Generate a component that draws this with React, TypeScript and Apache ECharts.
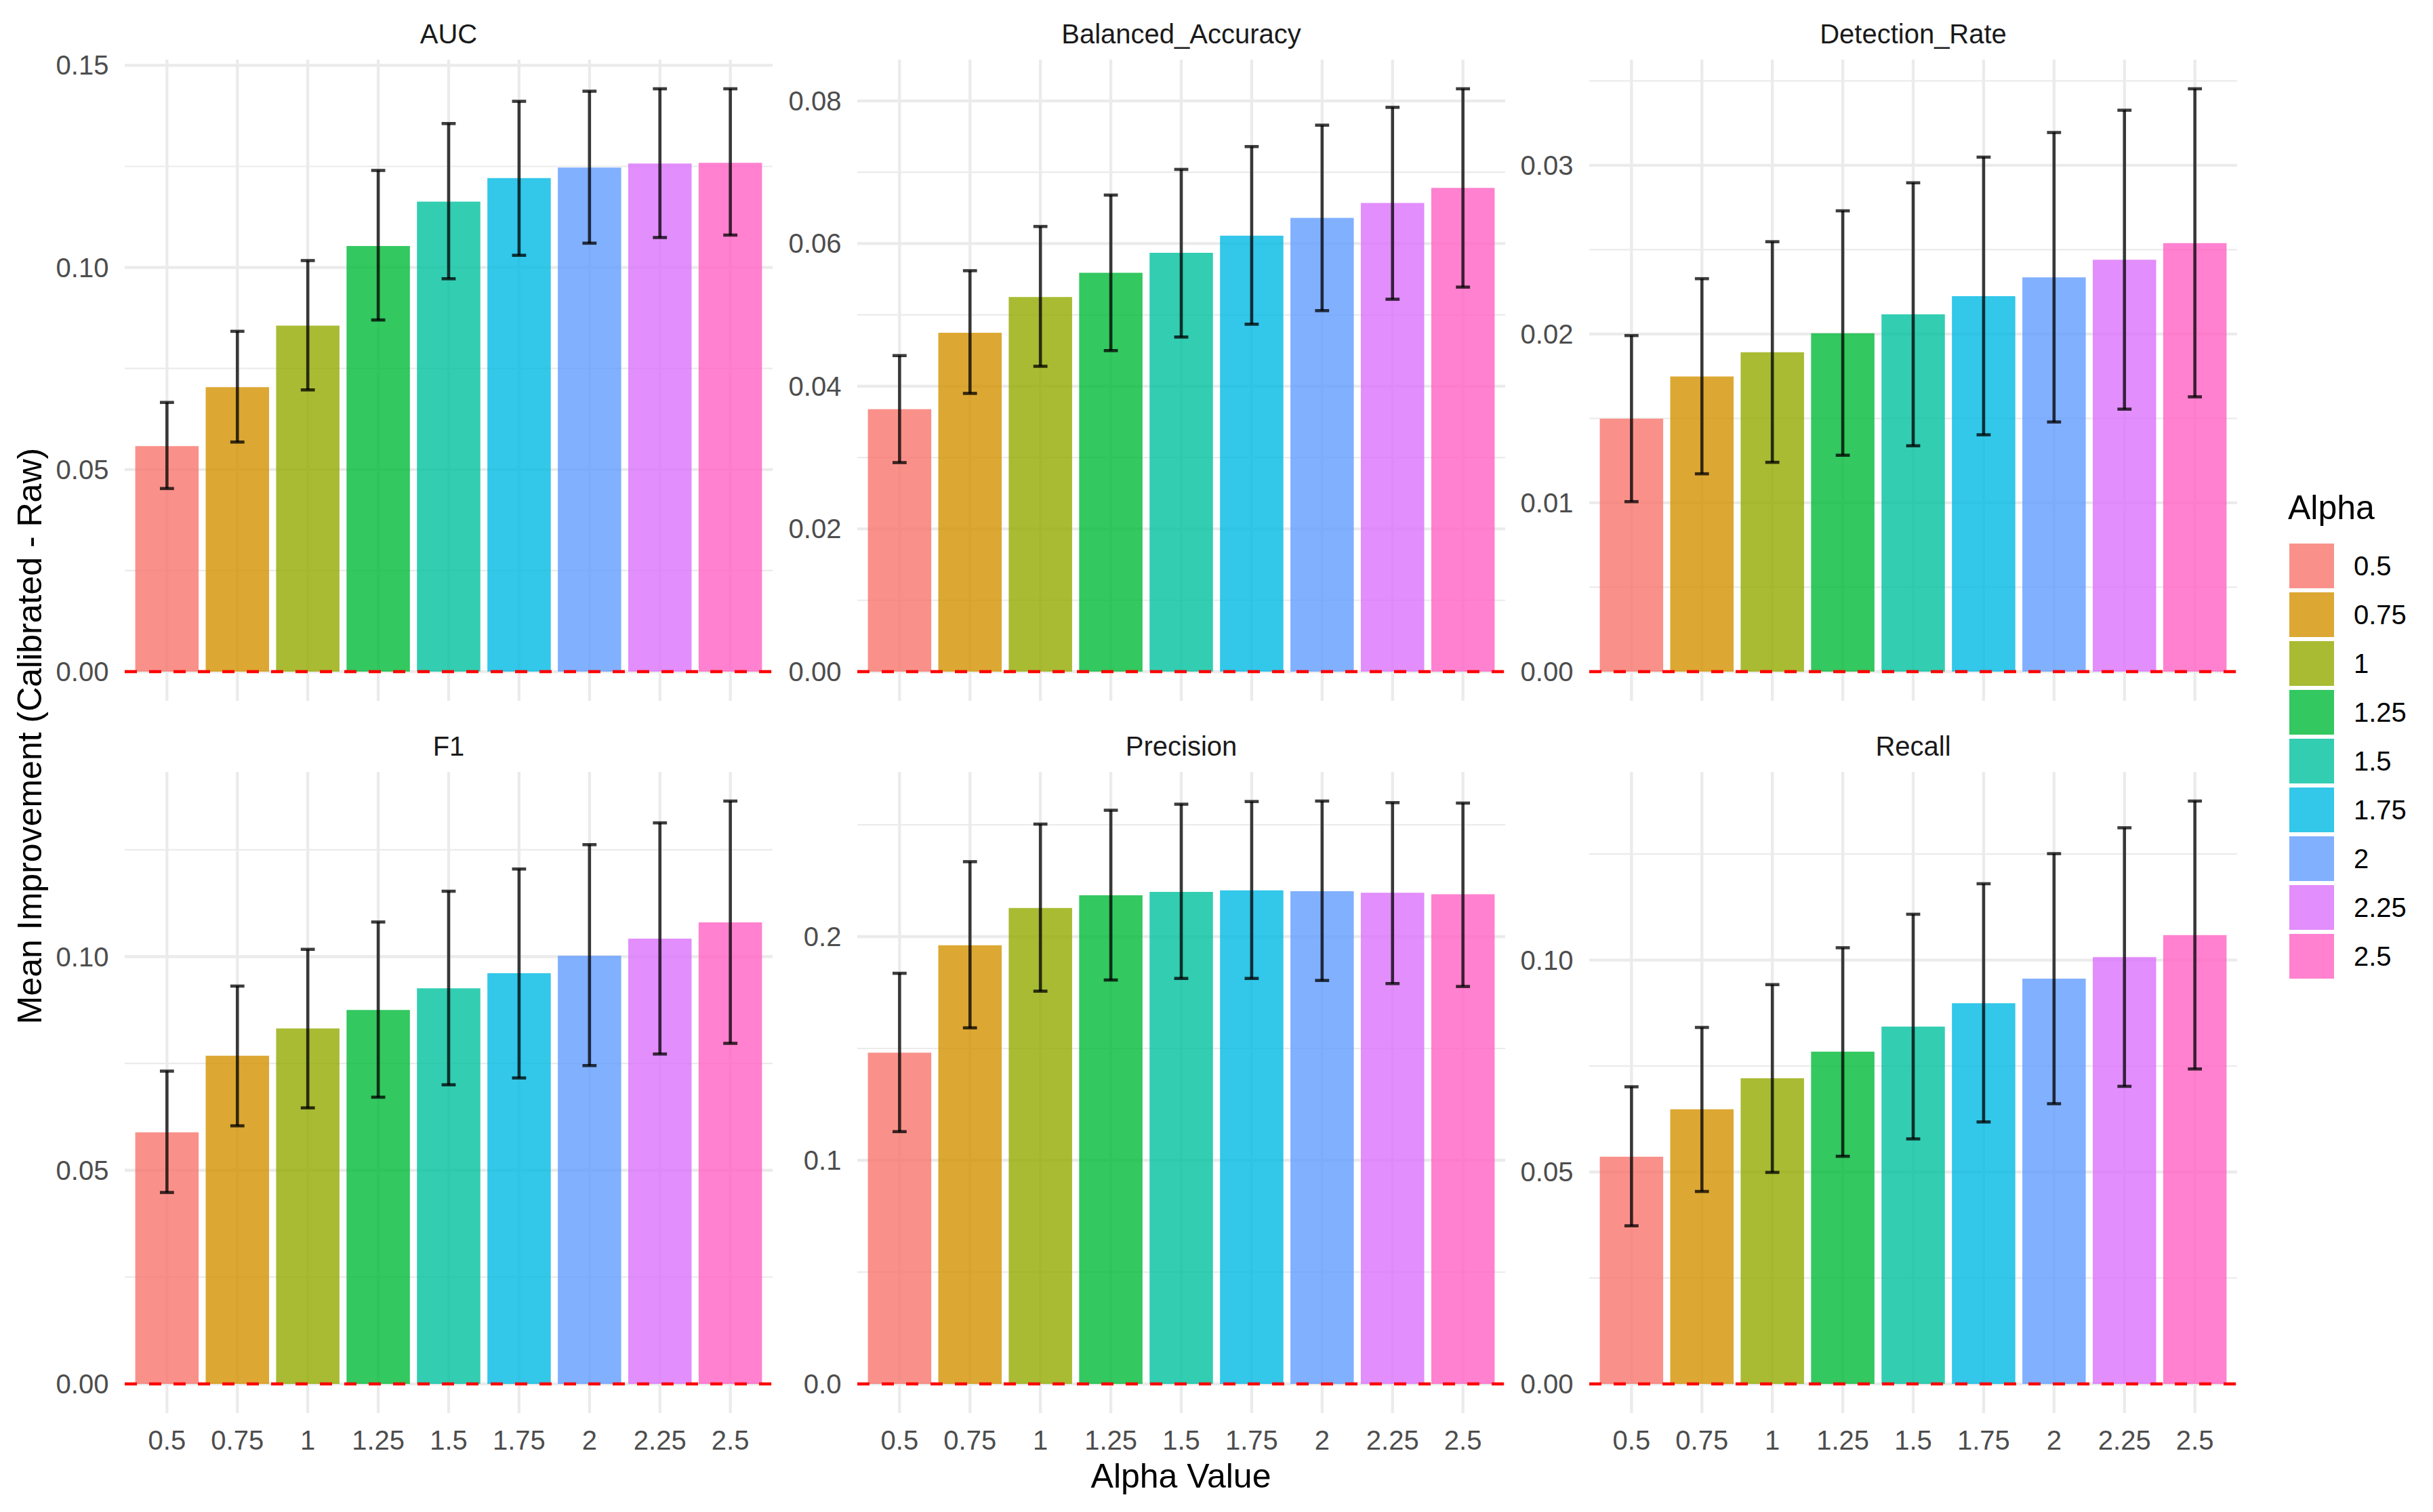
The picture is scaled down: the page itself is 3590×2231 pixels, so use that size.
import React, { useEffect, useRef } from "react";
import * as echarts from "echarts";

// ---------------- DATA ----------------
const alphas = ["0.5", "0.75", "1", "1.25", "1.5", "1.75", "2", "2.25", "2.5"];
const fills = ["#F8766D", "#D39200", "#93AA00", "#00BA38", "#00C19F", "#00B9E3", "#619CFF", "#DB72FB", "#FF61C3"];

const metricNames = ["AUC", "Balanced_Accuracy", "Detection_Rate", "F1", "Precision", "Recall"];

const aucMean = [0.0558, 0.0704, 0.0856, 0.1053, 0.1163, 0.1221, 0.1247, 0.1257, 0.1259];
const aucLo = [0.0453, 0.0568, 0.0697, 0.087, 0.0972, 0.103, 0.106, 0.1074, 0.108];
const aucHi = [0.0666, 0.0842, 0.1017, 0.124, 0.1356, 0.1411, 0.1436, 0.1442, 0.1442];

const baMean = [0.0368, 0.0475, 0.0525, 0.0559, 0.0587, 0.0611, 0.0636, 0.0657, 0.0678];
const baLo = [0.0293, 0.039, 0.0428, 0.045, 0.0469, 0.0487, 0.0506, 0.0522, 0.0539];
const baHi = [0.0443, 0.0562, 0.0624, 0.0668, 0.0704, 0.0736, 0.0766, 0.0791, 0.0817];

const drMean = [0.01499, 0.01749, 0.01892, 0.02005, 0.02117, 0.02224, 0.02336, 0.0244, 0.02539];
const drLo = [0.01007, 0.01172, 0.0124, 0.01282, 0.01338, 0.01403, 0.01479, 0.01555, 0.01628];
const drHi = [0.01991, 0.02328, 0.02547, 0.0273, 0.02896, 0.03048, 0.03194, 0.03326, 0.03453];

const f1Mean = [0.0589, 0.0768, 0.0832, 0.0875, 0.0926, 0.0961, 0.1002, 0.1042, 0.108];
const f1Lo = [0.0448, 0.0604, 0.0646, 0.0671, 0.07, 0.0716, 0.0745, 0.0772, 0.0797];
const f1Hi = [0.0732, 0.0931, 0.1017, 0.1081, 0.1153, 0.1205, 0.1262, 0.1313, 0.1364];

const precMean = [0.1481, 0.1961, 0.2128, 0.2185, 0.22, 0.2207, 0.2203, 0.2196, 0.2189];
const precLo = [0.1128, 0.1592, 0.1756, 0.1806, 0.1813, 0.1813, 0.1804, 0.179, 0.1777];
const precHi = [0.1836, 0.2335, 0.2503, 0.2565, 0.2592, 0.2604, 0.2606, 0.2599, 0.2597];

const recMean = [0.0536, 0.0648, 0.0721, 0.0784, 0.0843, 0.0898, 0.0956, 0.1007, 0.1059];
const recLo = [0.0373, 0.0454, 0.0499, 0.0537, 0.0578, 0.0618, 0.0661, 0.0702, 0.0743];
const recHi = [0.0701, 0.0841, 0.0942, 0.1029, 0.1108, 0.118, 0.1251, 0.1312, 0.1375];

const aucTicks = [0, 0.05, 0.1, 0.15];
const baTicks = [0, 0.02, 0.04, 0.06, 0.08];
const drTicks = [0, 0.01, 0.02, 0.03];
const f1Ticks = [0, 0.05, 0.1];
const precTicks = [0, 0.1, 0.2];
const recTicks = [0, 0.05, 0.1];
const tickDecimals = [2, 2, 2, 2, 1, 2];

const xTitle = "Alpha Value";
const yTitle = "Mean Improvement (Calibrated - Raw)";
const legendTitle = "Alpha";

// ---------------- LAYOUT ----------------
const W = 3590;
const H = 2231;
const colLeft = [184, 1265, 2345];
const rowTop = [88, 1139];
const panelW = 956;
const panelH = 946;
const FONT = "'Liberation Sans', Arial, Helvetica, sans-serif";

const panels = [
  { name: metricNames[0], mean: aucMean, lo: aucLo, hi: aucHi, ticks: aucTicks },
  { name: metricNames[1], mean: baMean, lo: baLo, hi: baHi, ticks: baTicks },
  { name: metricNames[2], mean: drMean, lo: drLo, hi: drHi, ticks: drTicks },
  { name: metricNames[3], mean: f1Mean, lo: f1Lo, hi: f1Hi, ticks: f1Ticks },
  { name: metricNames[4], mean: precMean, lo: precLo, hi: precHi, ticks: precTicks },
  { name: metricNames[5], mean: recMean, lo: recLo, hi: recHi, ticks: recTicks },
];

function withAlpha(hex: string, a: number) {
  const r = parseInt(hex.slice(1, 3), 16);
  const g = parseInt(hex.slice(3, 5), 16);
  const b = parseInt(hex.slice(5, 7), 16);
  return `rgba(${r},${g},${b},${a})`;
}

function buildOption() {
  const grids: any[] = [];
  const xAxes: any[] = [];
  const yAxes: any[] = [];
  const series: any[] = [];
  const graphics: any[] = [];

  panels.forEach((p, i) => {
    const col = i % 3;
    const row = Math.floor(i / 3);
    const left = colLeft[col];
    const top = rowTop[row];
    const unit = panelW / (alphas.length + 0.2);
    const inset = unit * 0.1;
    const R = Math.max(...p.hi);
    const ymin = -0.05 * R;
    const ymax = 1.05 * R;
    const step = p.ticks[1] - p.ticks[0];
    const minors: number[] = [];
    for (let k = 0; k < p.ticks.length; k++) {
      const m = p.ticks[k] + step / 2;
      if (m <= ymax) minors.push(m);
    }

    grids.push({ left: left + inset, top, width: panelW - 2 * inset, height: panelH, containLabel: false });
    xAxes.push({
      type: "category",
      gridIndex: i,
      data: alphas,
      boundaryGap: true,
      axisLine: { show: false },
      axisTick: { show: false },
      splitLine: { show: false },
      axisLabel: {
        show: row === 1,
        margin: 40,
        verticalAlign: "middle",
        color: "#4D4D4D",
        fontSize: 40,
        fontFamily: FONT,
        interval: 0,
      },
    });
    yAxes.push({
      type: "value",
      gridIndex: i,
      min: ymin,
      max: ymax,
      axisLine: { show: false },
      axisTick: { show: false, customValues: p.ticks },
      splitLine: { show: false },
      axisLabel: {
        customValues: p.ticks,
        formatter: (v: number) => v.toFixed(tickDecimals[i]),
        margin: 34,
        color: "#4D4D4D",
        fontSize: 40,
        fontFamily: FONT,
      },
    });

    const gridData = [
      ...minors.map((v) => [0, v, 0]),
      ...p.ticks.map((v) => [0, v, 1]),
    ];
    // horizontal grid lines
    series.push({
      type: "custom",
      xAxisIndex: i,
      yAxisIndex: i,
      z: 1,
      silent: true,
      clip: false,
      encode: { x: 0, y: 1 },
      data: gridData,
      renderItem: (params: any, api: any) => {
        const cs = params.coordSys;
        const y = api.coord([0, api.value(1)])[1];
        const major = api.value(2) === 1;
        return {
          type: "line",
          shape: { x1: cs.x - inset, y1: y, x2: cs.x + cs.width + inset, y2: y },
          style: { stroke: "#EBEBEB", lineWidth: major ? 4.3 : 2.2 },
        };
      },
    });
    // vertical grid lines
    series.push({
      type: "custom",
      xAxisIndex: i,
      yAxisIndex: i,
      z: 1,
      silent: true,
      clip: false,
      encode: { x: 0, y: 1 },
      data: alphas.map((a, k) => [k, 0]),
      renderItem: (params: any, api: any) => {
        const cs = params.coordSys;
        const x = api.coord([api.value(0), 0])[0];
        return {
          type: "line",
          shape: { x1: x, y1: cs.y, x2: x, y2: cs.y + cs.height },
          style: { stroke: "#EBEBEB", lineWidth: 4.3 },
        };
      },
    });
    // bars
    series.push({
      type: "bar",
      xAxisIndex: i,
      yAxisIndex: i,
      z: 2,
      barWidth: "90%",
      silent: true,
      data: p.mean.map((v, k) => ({ value: v, itemStyle: { color: withAlpha(fills[k], 0.8) } })),
    });
    // zero reference line
    series.push({
      type: "custom",
      xAxisIndex: i,
      yAxisIndex: i,
      z: 3,
      silent: true,
      clip: false,
      encode: { x: 0, y: 1 },
      data: [[0, 0]],
      renderItem: (params: any, api: any) => {
        const cs = params.coordSys;
        const y = api.coord([0, api.value(1)])[1];
        return {
          type: "line",
          shape: { x1: cs.x - inset, y1: y, x2: cs.x + cs.width + inset, y2: y },
          style: { stroke: "#FF0000", lineWidth: 4.6, lineDash: [18, 18] },
        };
      },
    });
    // error bars
    series.push({
      type: "custom",
      xAxisIndex: i,
      yAxisIndex: i,
      z: 4,
      silent: true,
      clip: false,
      encode: { x: 0, y: [1, 2] },
      data: p.mean.map((_, k) => [k, p.lo[k], p.hi[k]]),
      renderItem: (params: any, api: any) => {
        const xi = api.value(0);
        const pLo = api.coord([xi, api.value(1)]);
        const pHi = api.coord([xi, api.value(2)]);
        const half = api.size([1, 0])[0] * 0.1;
        const style = { stroke: "rgba(0,0,0,0.76)", lineWidth: 4.6 };
        return {
          type: "group",
          children: [
            { type: "line", shape: { x1: pLo[0], y1: pLo[1], x2: pHi[0], y2: pHi[1] }, style },
            { type: "line", shape: { x1: pHi[0] - half, y1: pHi[1], x2: pHi[0] + half, y2: pHi[1] }, style },
            { type: "line", shape: { x1: pLo[0] - half, y1: pLo[1], x2: pLo[0] + half, y2: pLo[1] }, style },
          ],
        };
      },
    });

    // strip title
    graphics.push({
      type: "text",
      x: left + panelW / 2,
      y: top - 38.5,
      silent: true,
      style: {
        text: p.name,
        x: 0,
        y: 0,
        textAlign: "center",
        textVerticalAlign: "middle",
        fill: "#1A1A1A",
        font: `40px ${FONT}`,
      },
    });
  });

  // axis titles
  graphics.push({
    type: "text",
    x: (colLeft[0] + colLeft[2] + panelW) / 2,
    y: 2178,
    silent: true,
    style: { text: xTitle, x: 0, y: 0, textAlign: "center", textVerticalAlign: "middle", fill: "#000000", font: `50px ${FONT}` },
  });
  graphics.push({
    type: "text",
    x: 44,
    y: 1086,
    rotation: Math.PI / 2,
    silent: true,
    style: { text: yTitle, x: 0, y: 0, textAlign: "center", textVerticalAlign: "middle", fill: "#000000", font: `50px ${FONT}` },
  });

  // legend
  graphics.push({
    type: "text",
    x: 3376,
    y: 749,
    silent: true,
    style: { text: legendTitle, x: 0, y: 0, textAlign: "left", textVerticalAlign: "middle", fill: "#000000", font: `50px ${FONT}` },
  });
  alphas.forEach((a, k) => {
    graphics.push({
      type: "rect",
      silent: true,
      shape: { x: 3378, y: 802 + k * 72, width: 66, height: 66 },
      style: { fill: withAlpha(fills[k], 0.8) },
    });
    graphics.push({
      type: "text",
      x: 3473,
      y: 835 + k * 72,
      silent: true,
      style: { text: a, x: 0, y: 0, textAlign: "left", textVerticalAlign: "middle", fill: "#000000", font: `40px ${FONT}` },
    });
  });

  return {
    animation: false,
    backgroundColor: "#FFFFFF",
    textStyle: { fontFamily: FONT },
    grid: grids,
    xAxis: xAxes,
    yAxis: yAxes,
    series,
    graphic: graphics,
  };
}

export default function App() {
  const ref = useRef<HTMLDivElement>(null);
  useEffect(() => {
    document.body.style.margin = "0";
    if (!ref.current) return;
    const chart = echarts.init(ref.current, undefined, { renderer: "svg", width: W, height: H });
    chart.setOption(buildOption() as any);
    return () => {
      chart.dispose();
    };
  }, []);
  return <div ref={ref} style={{ width: W, height: H }} />;
}
